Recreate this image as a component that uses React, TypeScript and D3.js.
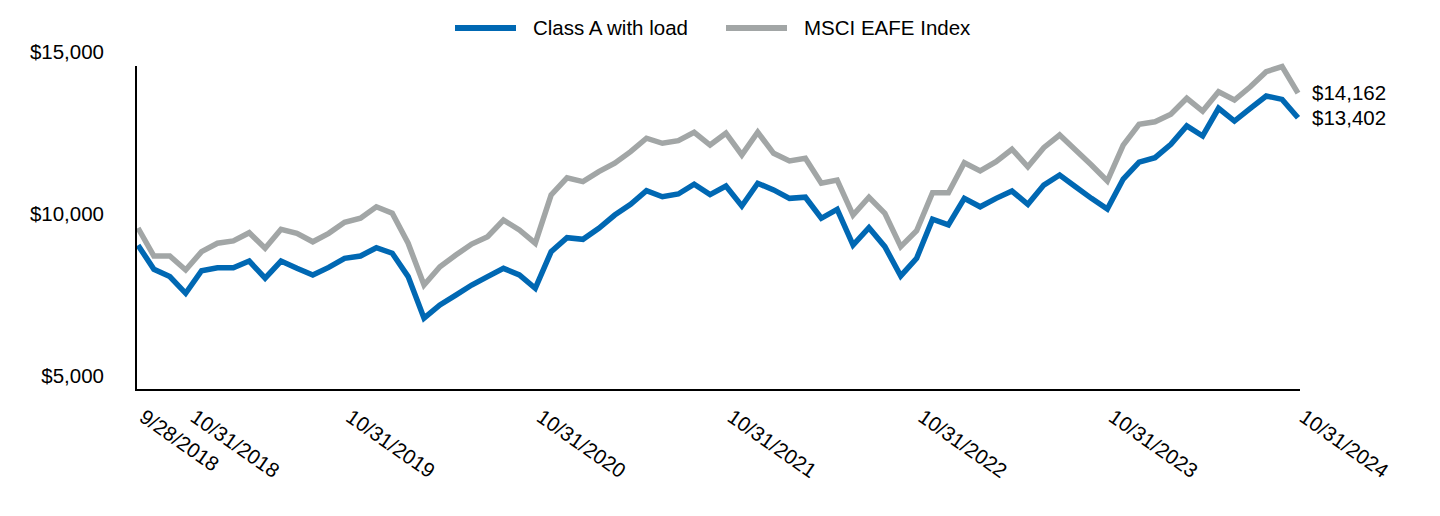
import React from "react";
import * as d3 from "d3";

// ---- data ----
const startLabel = "9/28/2018";
const classA: number[] = [
  9470, 8725, 8500, 7985, 8680, 8775, 8775, 8980, 8450, 8980,
  8755, 8550, 8785, 9065, 9135, 9390, 9220, 8500, 7215, 7625,
  7930, 8240, 8500, 8755, 8550, 8140, 9270, 9700, 9650, 9990,
  10400, 10730, 11150, 10965, 11050, 11350, 11030, 11295, 10680, 11380,
  11175, 10915, 10950, 10300, 10575, 9475, 10010, 9425, 8520, 9065,
  10270, 10095, 10915, 10655, 10915, 11140, 10730, 11325, 11635, 11275,
  10915, 10585, 11510, 12030, 12170, 12585, 13150, 12840, 13695, 13300,
  13695, 14075, 13970, 13402,
];
const msci: number[] = [
  10000, 9135, 9135, 8705, 9270, 9530, 9600, 9855, 9375, 9960,
  9835, 9575, 9835, 10175, 10300, 10655, 10455, 9530, 8240, 8805,
  9165, 9505, 9730, 10245, 9940, 9530, 11020, 11550, 11430, 11740,
  12000, 12355, 12770, 12615, 12695, 12955, 12560, 12925, 12255, 12955,
  12305, 12070, 12150, 11380, 11480, 10400, 10950, 10455, 9425, 9915,
  11090, 11090, 12015, 11760, 12045, 12430, 11890, 12480, 12870, 12405,
  11945, 11450, 12560, 13200, 13280, 13510, 14005, 13610, 14205, 13950,
  14360, 14825, 14980, 14162,
];
const xTickLabels = [
  "9/28/2018", "10/31/2018", "10/31/2019", "10/31/2020",
  "10/31/2021", "10/31/2022", "10/31/2023", "10/31/2024",
];
const yTicks = [5000, 10000, 15000];
const seriesNames = ["Class A with load", "MSCI EAFE Index"];
const seriesColors = ["#0068B3", "#A2A6A6"];

// month-end date categories
const fmt = d3.timeFormat("%-m/%-d/%Y");
const monthEnds = d3
  .timeMonth.range(new Date(2018, 10, 1), new Date(2024, 11, 1))
  .map((d) => fmt(d3.timeDay.offset(d, -1)));
const dates = [startLabel, ...monthEnds];

const W = 1440;
const H = 516;
const FONT = "'Liberation Sans', Arial, Helvetica, sans-serif";
const LABEL_FS = 20.5;

export default function App() {
  const x = d3.scalePoint<string>().domain(dates).range([138, 1298]);
  const y = d3.scaleLinear().domain([5000, 15000]).range([390, 66]);
  const axisLeft = 136;
  const axisRight = 1300;

  const line = d3
    .line<number>()
    .x((_, i) => x(dates[i]) as number)
    .y((v) => y(v));

  const money = (v: number) => "$" + d3.format(",")(v);

  // x labels with simple overlap nudge
  const minGap = 51;
  const xLabelPos: number[] = [];
  xTickLabels.forEach((lab, i) => {
    let px = x(lab) as number;
    if (i > 0 && px < xLabelPos[i - 1] + minGap) px = xLabelPos[i - 1] + minGap;
    xLabelPos.push(px);
  });

  const series = [classA, msci];
  const lastIdx = dates.length - 1;

  // legend layout
  const lineLen = 61;
  const legendItems = [
    { x: 455, name: seriesNames[0], color: seriesColors[0] },
    { x: 726, name: seriesNames[1], color: seriesColors[1] },
  ];

  return (
    <svg
      width={W}
      height={H}
      style={{ position: "absolute", left: 0, top: 0, background: "#fff" }}
      fontFamily={FONT}
    >
      {/* legend */}
      {legendItems.map((it) => (
        <g key={it.name}>
          <line
            x1={it.x}
            x2={it.x + lineLen}
            y1={28}
            y2={28}
            stroke={it.color}
            strokeWidth={6}
          />
          <text x={it.x + lineLen + 17} y={35.3} fontSize={LABEL_FS} fill="#000">
            {it.name}
          </text>
        </g>
      ))}

      {/* y tick labels */}
      {yTicks.map((t) => (
        <text
          key={t}
          x={104}
          y={y(t) - 7.2}
          fontSize={LABEL_FS}
          textAnchor="end"
          fill="#000"
        >
          {money(t)}
        </text>
      ))}

      {/* series lines (index behind) */}
      {[1, 0].map((s) => (
        <path
          key={s}
          d={line(series[s]) || ""}
          fill="none"
          stroke={seriesColors[s]}
          strokeWidth={5.5}
          strokeLinejoin="miter"
        />
      ))}

      {/* axes */}
      <line x1={axisLeft} x2={axisLeft} y1={y(15000)} y2={y(5000) + 1} stroke="#000" strokeWidth={2} />
      <line x1={axisLeft - 1} x2={axisRight} y1={y(5000)} y2={y(5000)} stroke="#000" strokeWidth={2} />

      {/* end labels */}
      {[1, 0].map((s) => (
        <text
          key={"end" + s}
          x={(x(dates[lastIdx]) as number) + 14}
          y={y(series[s][lastIdx]) + 7.3}
          fontSize={LABEL_FS}
          fill="#000"
        >
          {money(series[s][lastIdx])}
        </text>
      ))}

      {/* x tick labels */}
      {xTickLabels.map((lab, i) => (
        <text
          key={lab}
          transform={`translate(${xLabelPos[i]},${420}) rotate(35)`}
          fontSize={LABEL_FS}
          fill="#000"
        >
          {lab}
        </text>
      ))}
    </svg>
  );
}
